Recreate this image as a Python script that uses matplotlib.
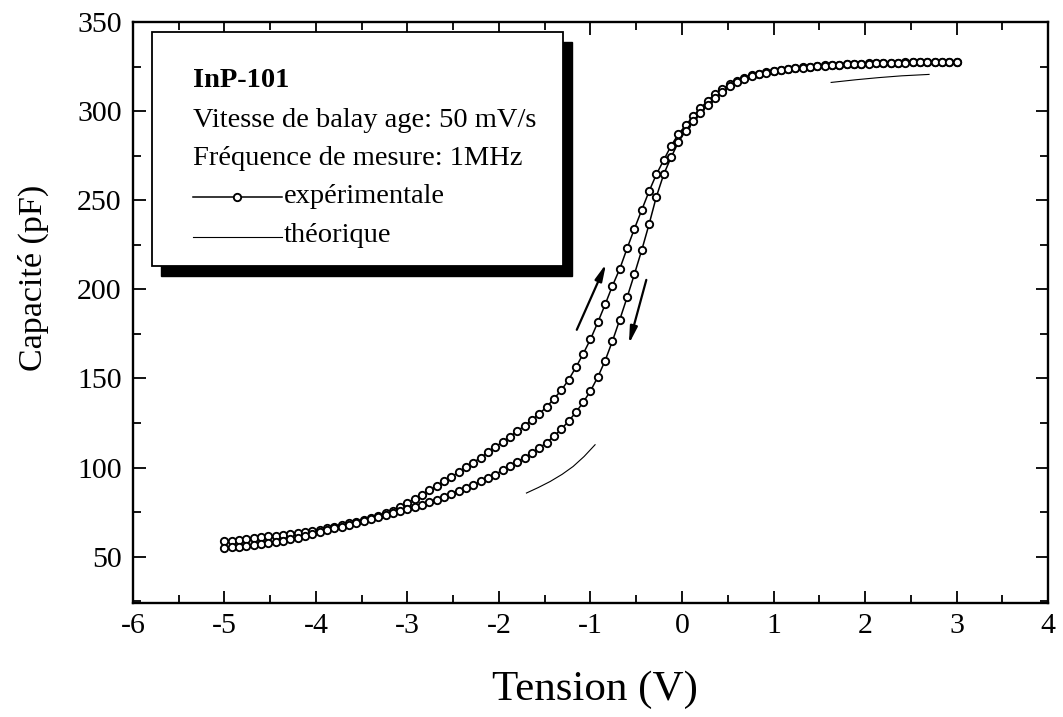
import matplotlib
matplotlib.use("Agg")
import matplotlib.pyplot as plt
from matplotlib.patches import Rectangle
from matplotlib.lines import Line2D
from matplotlib.ticker import MultipleLocator

plt.rcParams['font.family'] = ['Liberation Serif', 'DejaVu Serif']
plt.rcParams['axes.unicode_minus'] = False

# ---------------- data ----------------
tension = [-5.00, -4.92, -4.84, -4.76, -4.68, -4.60, -4.52, -4.44, -4.36, -4.28,
           -4.20, -4.12, -4.04, -3.96, -3.88, -3.80, -3.72, -3.64, -3.56, -3.48,
           -3.40, -3.32, -3.24, -3.16, -3.08, -3.00, -2.92, -2.84, -2.76, -2.68,
           -2.60, -2.52, -2.44, -2.36, -2.28, -2.20, -2.12, -2.04, -1.96, -1.88,
           -1.80, -1.72, -1.64, -1.56, -1.48, -1.40, -1.32, -1.24, -1.16, -1.08,
           -1.00, -0.92, -0.84, -0.76, -0.68, -0.60, -0.52, -0.44, -0.36, -0.28,
           -0.20, -0.12, -0.04, 0.04, 0.12, 0.20, 0.28, 0.36, 0.44, 0.52,
           0.60, 0.68, 0.76, 0.84, 0.92, 1.00, 1.08, 1.16, 1.24, 1.32,
           1.40, 1.48, 1.56, 1.64, 1.72, 1.80, 1.88, 1.96, 2.04, 2.12,
           2.20, 2.28, 2.36, 2.44, 2.52, 2.60, 2.68, 2.76, 2.84, 2.92, 3.00]

# branch drawn on the left of the hysteresis (sweep up)
cap_aller = [58.8, 59.0, 59.5, 59.8, 60.2, 60.9, 61.4, 61.8, 62.3, 62.7,
             63.3, 64.0, 64.6, 65.2, 66.1, 66.9, 67.8, 68.7, 69.6, 70.7,
             71.8, 73.0, 74.4, 75.9, 77.9, 80.3, 82.6, 84.8, 87.2, 89.7,
             92.2, 94.8, 97.4, 100.1, 102.8, 105.6, 108.5, 111.5, 114.5, 117.4,
             120.4, 123.5, 126.8, 130.2, 134.0, 138.6, 143.3, 149.2, 156.2, 163.8,
             172.0, 181.5, 191.5, 202.0, 211.5, 223.0, 234.0, 244.5, 255.0, 264.5,
             272.5, 280.5, 287.0, 292.0, 297.0, 301.5, 305.8, 309.5, 312.6, 315.0,
             317.0, 318.7, 320.0, 321.0, 321.8, 322.5, 323.1, 323.6, 324.1, 324.5,
             324.9, 325.3, 325.6, 325.9, 326.1, 326.3, 326.5, 326.7, 326.8, 326.9,
             327.0, 327.1, 327.2, 327.3, 327.3, 327.4, 327.4, 327.5, 327.5, 327.6, 327.6]

# branch drawn on the right of the hysteresis (sweep down)
cap_retour = [55.0, 55.3, 55.7, 56.2, 56.6, 57.1, 57.7, 58.4, 59.0, 59.8,
              60.7, 61.6, 62.6, 63.7, 64.8, 65.9, 66.9, 67.9, 68.9, 69.9,
              70.9, 72.0, 73.1, 74.3, 75.5, 76.8, 78.0, 79.2, 80.5, 82.0,
              83.6, 85.3, 87.0, 88.6, 90.3, 92.2, 94.1, 96.1, 98.6, 100.9,
              103.2, 105.6, 108.0, 110.9, 114.0, 117.6, 121.5, 126.0, 131.0, 136.6,
              143.0, 150.8, 160.0, 171.0, 183.0, 195.5, 208.5, 222.0, 236.5, 252.0,
              264.5, 274.0, 282.5, 289.0, 294.5, 299.0, 303.5, 307.5, 311.0, 314.0,
              316.3, 318.2, 319.6, 320.7, 321.6, 322.3, 322.9, 323.5, 324.0, 324.4,
              324.8, 325.2, 325.5, 325.8, 326.0, 326.2, 326.4, 326.6, 326.7, 326.8,
              326.9, 327.0, 327.1, 327.2, 327.3, 327.3, 327.4, 327.4, 327.5, 327.5, 327.6]

# theoretical curve (two visible segments)
theo_v_bas = [-1.70, -1.57, -1.44, -1.31, -1.19, -1.07, -0.95]
theo_c_bas = [85.7, 88.8, 92.2, 96.2, 100.6, 106.2, 112.8]
theo_v_haut = [1.63, 1.90, 2.15, 2.40, 2.70]
theo_c_haut = [316.1, 317.6, 318.8, 319.8, 320.6]

x_ticks = [-6, -5, -4, -3, -2, -1, 0, 1, 2, 3, 4]
y_ticks = [50, 100, 150, 200, 250, 300, 350]

# ---------------- figure ----------------
fig = plt.figure(figsize=(10.63, 7.17), dpi=100)
ax = fig.add_axes([0.1251, 0.159, 0.8608, 0.8103])

mk = dict(marker='o', markersize=5.3, markerfacecolor='white',
          markeredgecolor='black', markeredgewidth=1.35, color='black',
          linewidth=1.1)
ax.plot(tension, cap_aller, **mk, zorder=3)
ax.plot(tension, cap_retour, **mk, zorder=3)
ax.plot(theo_v_bas, theo_c_bas, color='black', linewidth=0.8, zorder=2)
ax.plot(theo_v_haut, theo_c_haut, color='black', linewidth=0.8, zorder=2)

# sweep direction arrows
arrow_kw = dict(arrowstyle='-|>,head_length=1.0,head_width=0.22',
                color='black', linewidth=1.6, shrinkA=0, shrinkB=0)
ax.annotate('', xy=(-0.83, 214.3), xytext=(-1.15, 177.3), arrowprops=arrow_kw)
ax.annotate('', xy=(-0.58, 169.4), xytext=(-0.39, 205.3), arrowprops=arrow_kw)

ax.set_xlim(-6, 4)
ax.set_ylim(24, 350)
ax.set_xticks(x_ticks)
ax.set_yticks(y_ticks)
ax.xaxis.set_minor_locator(MultipleLocator(0.5))
ax.yaxis.set_minor_locator(MultipleLocator(25))
ax.tick_params(which='both', direction='in', top=True, right=True,
               width=1.3, labelsize=21.5)
ax.tick_params(axis='x', which='both', pad=7)
ax.tick_params(axis='y', which='both', pad=8)
ax.tick_params(which='major', length=9)
ax.tick_params(which='minor', length=6)
for s in ax.spines.values():
    s.set_linewidth(1.7)

ax.set_xlabel('Tension (V)', fontsize=31)
ax.xaxis.set_label_coords(0.505, -0.150)
ax.xaxis.label.set_verticalalignment('center')
ax.set_ylabel('Capacité (pF)', fontsize=24.5)
ax.yaxis.set_label_coords(-0.109, 0.559)
ax.yaxis.label.set_verticalalignment('center')

# ---------------- legend box with shadow ----------------
bx0, bx1, by0, by1 = 0.0208, 0.470, 0.580, 0.9828
ax.add_patch(Rectangle((bx0 + 0.0098, by0 - 0.0172), bx1 - bx0, by1 - by0,
                       transform=ax.transAxes, facecolor='black',
                       edgecolor='black', zorder=5))
ax.add_patch(Rectangle((bx0, by0), bx1 - bx0, by1 - by0,
                       transform=ax.transAxes, facecolor='white',
                       edgecolor='black', linewidth=1.3, zorder=6))

tx = 0.0656
fs = 20.5
ax.text(tx, 0.8886, 'InP-101', transform=ax.transAxes, fontsize=fs,
        fontweight='bold', va='baseline', ha='left', zorder=7)
ax.text(tx, 0.8198, 'Vitesse de balay age: 50 mV/s', transform=ax.transAxes,
        fontsize=fs, va='baseline', ha='left', zorder=7)
ax.text(tx, 0.7539, 'Fréquence de mesure: 1MHz', transform=ax.transAxes,
        fontsize=fs, va='baseline', ha='left', zorder=7)
ax.text(0.1650, 0.6885, 'expérimentale', transform=ax.transAxes,
        fontsize=fs, va='baseline', ha='left', zorder=7)
ax.text(0.1650, 0.6219, 'théorique', transform=ax.transAxes,
        fontsize=fs, va='baseline', ha='left', zorder=7)

lx0, lx1 = 0.0656, 0.1625
ax.add_line(Line2D([lx0, lx1], [0.6993, 0.6993], transform=ax.transAxes,
                   color='black', linewidth=1.1, zorder=7))
ax.add_line(Line2D([(lx0 + lx1) / 2], [0.6993], transform=ax.transAxes,
                   marker='o', markersize=5.3, markerfacecolor='white',
                   markeredgecolor='black', markeredgewidth=1.35,
                   linestyle='none', zorder=8))
ax.add_line(Line2D([lx0, lx1], [0.6305, 0.6305], transform=ax.transAxes,
                   color='black', linewidth=0.8, zorder=7))

fig.savefig('out.png', dpi=100)
